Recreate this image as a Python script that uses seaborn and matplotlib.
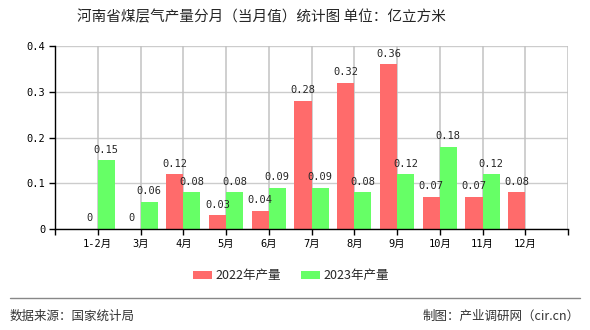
import matplotlib
matplotlib.use("Agg")
import matplotlib.pyplot as plt
from matplotlib.lines import Line2D
from matplotlib.patches import Patch
import seaborn as sns
import pandas as pd
import numpy as np

months = ["1-2月", "3月", "4月", "5月", "6月", "7月", "8月", "9月", "10月", "11月", "12月"]
v2022 = [0, 0, 0.12, 0.03, 0.04, 0.28, 0.32, 0.36, 0.07, 0.07, 0.08]
v2023 = [0.15, 0.06, 0.08, 0.08, 0.09, 0.09, 0.08, 0.12, 0.18, 0.12, np.nan]
series = ["2022年产量", "2023年产量"]
colors = ["#FF6B6B", "#66FF66"]
title = "河南省煤层气产量分月（当月值）统计图 单位：亿立方米"
source = "数据来源：国家统计局"
credit = "制图：产业调研网（cir.cn）"

sns.set_theme(style="white")
plt.rcParams['font.family'] = ['Noto Sans CJK SC', 'DejaVu Sans']

df = pd.DataFrame({
    "month": months * 2,
    "value": v2022 + v2023,
    "series": [series[0]] * len(months) + [series[1]] * len(months),
})

fig = plt.figure(figsize=(5.9, 3.3), dpi=100)
ax = fig.add_axes([55/590, 1-229/330, (568-55)/590, (229-46)/330])

sns.barplot(data=df, x="month", y="value", hue="series", order=months,
            hue_order=series, palette=colors, saturation=1, width=0.8, gap=0,
            linewidth=0, edgecolor="none", ax=ax, legend=False, zorder=3)

mono = ['DejaVu Sans Mono', 'Noto Sans CJK SC']
for c in ax.containers:
    ax.bar_label(c, fmt='%g', padding=4, fontsize=7.5, family=mono, zorder=4)

ax.set_xlim(-1, 11)
ax.set_ylim(0, 0.4)
xt = list(range(-1, 12))
ax.set_xticks(xt)
ax.set_xticklabels([""] + months + [""], family=mono, fontsize=7.5)
ax.set_yticks([0, 0.1, 0.2, 0.3, 0.4])
ax.set_yticklabels(["0", "0.1", "0.2", "0.3", "0.4"], family=mono, fontsize=7.5)
ax.set_xlabel("")
ax.set_ylabel("")
ax.set_axisbelow(True)
ax.yaxis.grid(True, color="#cccccc", linewidth=1)
ax.vlines(xt[1:], 0, 0.4, colors="#c2c2c2", linewidths=1.1, zorder=1)
for s in ["top", "right"]:
    ax.spines[s].set_visible(False)
for s in ["left", "bottom"]:
    ax.spines[s].set_color("black")
    ax.spines[s].set_linewidth(1)
    ax.spines[s].set_zorder(5)
ax.tick_params(axis="both", direction="out", length=4, width=1, color="black",
               pad=3, colors="black", bottom=True, left=True)
ax.set_xlim(-1, 11)
ax.set_ylim(0, 0.4)

handles = [Patch(facecolor=colors[0], edgecolor="none"),
           Patch(facecolor=colors[1], edgecolor="none")]
fig.legend(handles, series, loc="center", bbox_to_anchor=(291/590, 1-276/330),
           ncol=2, frameon=False, fontsize=9, handlelength=1.5, handleheight=0.65,
           handletextpad=0.3, columnspacing=1.6)

fig.text(261/590, 1-17/330, title, ha="center", va="center", fontsize=10.5)
fig.add_artist(Line2D([10/590, 580/590], [1-298/330, 1-298/330], color="#888888", linewidth=1))
fig.text(10/590, 1-316/330, source, ha="left", va="center", fontsize=9, color="#333333")
fig.text(580/590, 1-316/330, credit, ha="right", va="center", fontsize=9, color="#333333")

fig.savefig("out.png", dpi=100)
